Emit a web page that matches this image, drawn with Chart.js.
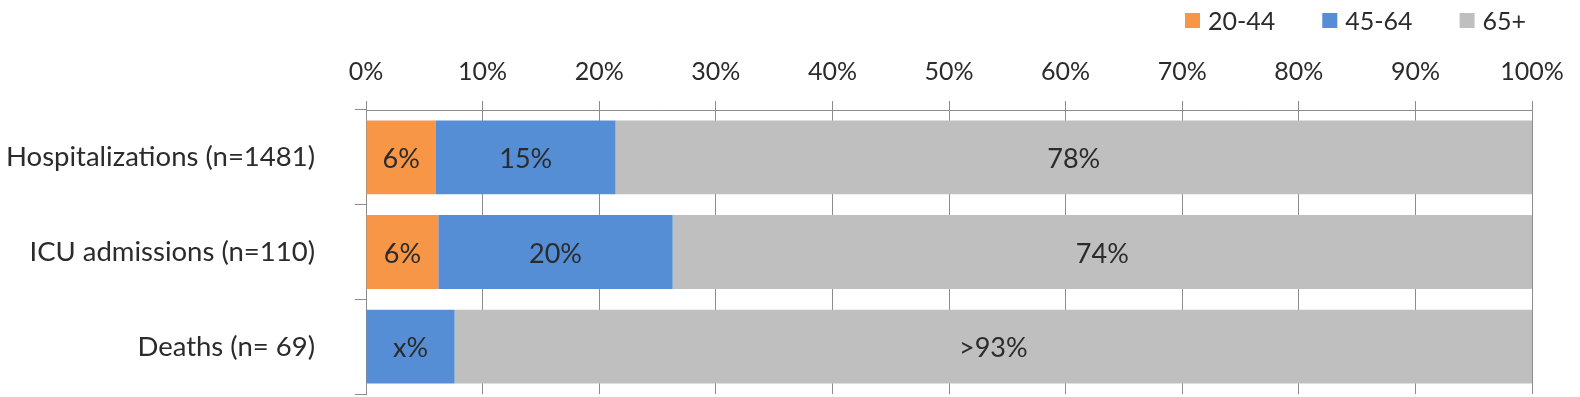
<!DOCTYPE html>
<html>
<head>
<meta charset="utf-8">
<script src="https://cdn.jsdelivr.net/npm/chart.js@4/dist/chart.umd.min.js"></script>
<style>
    html, body { margin: 0; padding: 0; background: #fff; }
    #wrap { position: relative; width: 1580px; height: 397px; }
</style>
</head>
<body>
<div id="wrap"><canvas id="ageChart"></canvas></div>
<script>
    'use strict';

    const categories = ['Hospitalizations (n=1481)', 'ICU admissions (n=110)', 'Deaths (n= 69)'];
    const seriesNames = ['20-44', '45-64', '65+'];
    const age2044 = [6.0, 6.2, 0];
    const age4564 = [15.4, 20.1, 7.6];
    const age65 = [78.6, 73.7, 92.4];
    const labels2044 = ['6%', '6%', ''];
    const labels4564 = ['15%', '20%', 'x%'];
    const labels65 = ['78%', '74%', '>93%'];
    const colors = ['#F79646', '#558ED5', '#BFBFBF'];

    const FONT = 'Lato, "Open Sans", sans-serif';
    const TEXT = '#2b2b2b';
    const AXIS = '#8c8c8c';

    // centred text inside each bar segment
    const segmentLabels = {
        id: 'segmentLabels',
        afterDatasetsDraw(chart) {
            const ctx = chart.ctx;
            ctx.save();
            ctx.font = '27px ' + FONT;
            ctx.fillStyle = TEXT;
            ctx.textAlign = 'center';
            ctx.textBaseline = 'middle';
            chart.data.datasets.forEach((ds, i) => {
                chart.getDatasetMeta(i).data.forEach((bar, j) => {
                    const txt = ds.segLabels[j];
                    if (!txt) return;
                    ctx.fillText(txt, (bar.x + bar.base) / 2, bar.y + 2);
                });
            });
            ctx.restore();
        }
    };

    // legend in the top right corner
    const cornerLegend = {
        id: 'cornerLegend',
        afterDraw(chart) {
            const ctx = chart.ctx;
            ctx.save();
            ctx.font = '25px ' + FONT;
            ctx.textBaseline = 'middle';
            ctx.textAlign = 'left';
            let x = 1185;
            const y = 21;
            chart.data.datasets.forEach(ds => {
                ctx.fillStyle = ds.backgroundColor;
                ctx.fillRect(x, y - 8, 15, 15);
                ctx.fillStyle = TEXT;
                ctx.fillText(ds.label, x + 23, y + 1);
                x += 23 + ctx.measureText(ds.label).width + 47;
            });
            ctx.restore();
        }
    };

    const segData = [age2044, age4564, age65];
    const segText = [labels2044, labels4564, labels65];

    new Chart(document.getElementById('ageChart'), {
        type: 'bar',
        data: {
            labels: categories,
            datasets: seriesNames.map((name, i) => ({
                label: name,
                data: segData[i],
                segLabels: segText[i],
                backgroundColor: colors[i],
                borderWidth: 0,
                categoryPercentage: 0.78,
                barPercentage: 1
            }))
        },
        options: {
            indexAxis: 'y',
            responsive: true,
            maintainAspectRatio: false,
            animation: false,
            layout: { autoPadding: false, padding: { top: 0, left: 0, right: 48, bottom: 3 } },
            plugins: {
                legend: { display: false },
                tooltip: { enabled: false }
            },
            scales: {
                x: {
                    position: 'top',
                    stacked: true,
                    min: 0,
                    max: 100,
                    afterFit: s => { s.height = 110; },
                    grid: { color: AXIS, tickLength: 9 },
                    border: { color: AXIS },
                    ticks: {
                        stepSize: 10,
                        padding: 14,
                        color: TEXT,
                        font: { family: FONT, size: 25 },
                        callback: v => v + '%'
                    }
                },
                y: {
                    stacked: true,
                    offset: true,
                    afterFit: s => {
                        s.width = 366;
                        s.paddingTop = 0;
                        s.paddingBottom = 0;
                    },
                    grid: { offset: true, drawOnChartArea: false, color: AXIS, tickLength: 11 },
                    border: { color: AXIS },
                    ticks: {
                        padding: 40,
                        color: TEXT,
                        font: { family: FONT, size: 27.5 }
                    }
                }
            }
        },
        plugins: [segmentLabels, cornerLegend]
    });
</script>
</body>
</html>
